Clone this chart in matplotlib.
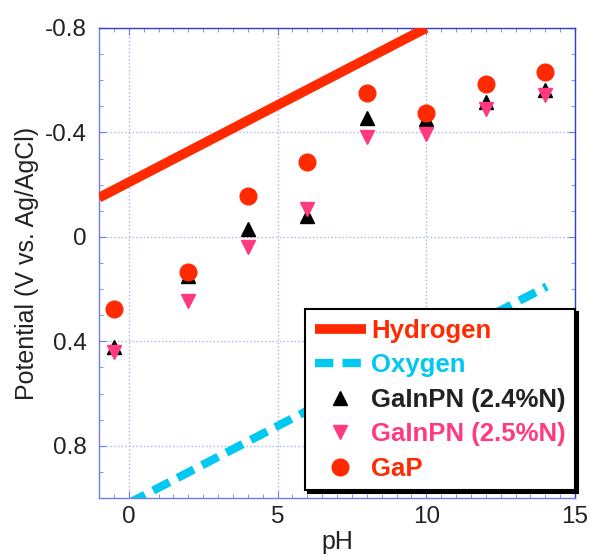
import matplotlib.pyplot as plt
from matplotlib.ticker import MultipleLocator

plt.rcParams['font.family'] = ['Liberation Sans', 'DejaVu Sans']

# water redox lines
h2_ph = [-1, 10]
h2_e = [-0.15, -0.80]
o2_ph = [0, 14.05]
o2_e = [1.02, 0.19]

# measured flat-band potentials
ph = [-0.5, 2, 4, 6, 8, 10, 12, 14]
gainpn_24 = [0.42, 0.15, -0.03, -0.08, -0.457, -0.453, -0.517, -0.564]
gainpn_25 = [0.44, 0.246, 0.04, -0.107, -0.382, -0.395, -0.49, -0.542]
gap = [0.277, 0.135, -0.158, -0.288, -0.551, -0.473, -0.587, -0.632]

red = '#ff2a00'
cyan = '#00c8f0'
pink = '#ff3a80'
axcol = '#6f7fe6'

fig = plt.figure(figsize=(5.9, 5.55), dpi=100)
ax = fig.add_axes([99/590, 1-498/555, 476/590, 470/555])

ax.plot(h2_ph, h2_e, color=red, lw=7, solid_capstyle='butt', label='Hydrogen', zorder=3)
ax.plot(o2_ph, o2_e, color=cyan, lw=6, dashes=(2.2, 1.1), dash_capstyle='butt', label='Oxygen', zorder=3)
ax.plot(ph, gainpn_24, '^', color='black', ms=10, ls='none', label='GaInPN (2.4%N)', zorder=4)
ax.plot(ph, gainpn_25, 'v', color=pink, ms=10, ls='none', label='GaInPN (2.5%N)', zorder=5)
ax.plot(ph, gap, 'o', color=red, ms=12, ls='none', label='GaP', zorder=6)

ax.set_xlim(-1, 15)
ax.set_ylim(1.0, -0.8)
ax.xaxis.set_major_locator(MultipleLocator(5))
ax.xaxis.set_minor_locator(MultipleLocator(0.5))
ax.yaxis.set_minor_locator(MultipleLocator(0.1))
ax.set_yticks([-0.8, -0.4, 0, 0.4, 0.8])
ax.set_yticklabels(['-0.8', '-0.4', '0', '0.4', '0.8'])
ax.grid(True, which='major', color='#a8b4f0', ls=':', lw=1)
ax.tick_params(which='both', direction='in', top=True, right=True, colors=axcol,
               labelcolor='#222222', labelsize=17.5)
ax.tick_params(which='major', length=5)
ax.tick_params(which='minor', length=3)
ax.tick_params(axis='y', pad=9)
ax.tick_params(axis='x', pad=6)
for s in ax.spines.values():
    s.set_color(axcol)
    s.set_linewidth(1)
ax.spines['top'].set_color('#3040d0')
ax.spines['right'].set_color('#3040d0')

ax.set_xlabel('pH', fontsize=18, color='#222222', labelpad=1)
ax.set_ylabel('Potential (V vs. Ag/AgCl)', fontsize=18, color='#222222', labelpad=4)

leg = ax.legend(loc='lower right', bbox_to_anchor=(1.0, 8/470), borderaxespad=0,
                prop={'weight': 'bold', 'size': 18.5}, frameon=True, fancybox=False,
                shadow={'color': 'black', 'alpha': 1}, handlelength=2.0, handletextpad=0.2,
                borderpad=0.36, labelspacing=0.41, framealpha=1)
leg.get_frame().set_edgecolor('black')
leg.get_frame().set_linewidth(1.5)
for t, c in zip(leg.get_texts(), [red, cyan, '#222222', pink, red]):
    t.set_color(c)

fig.savefig('out.png', dpi=100)
